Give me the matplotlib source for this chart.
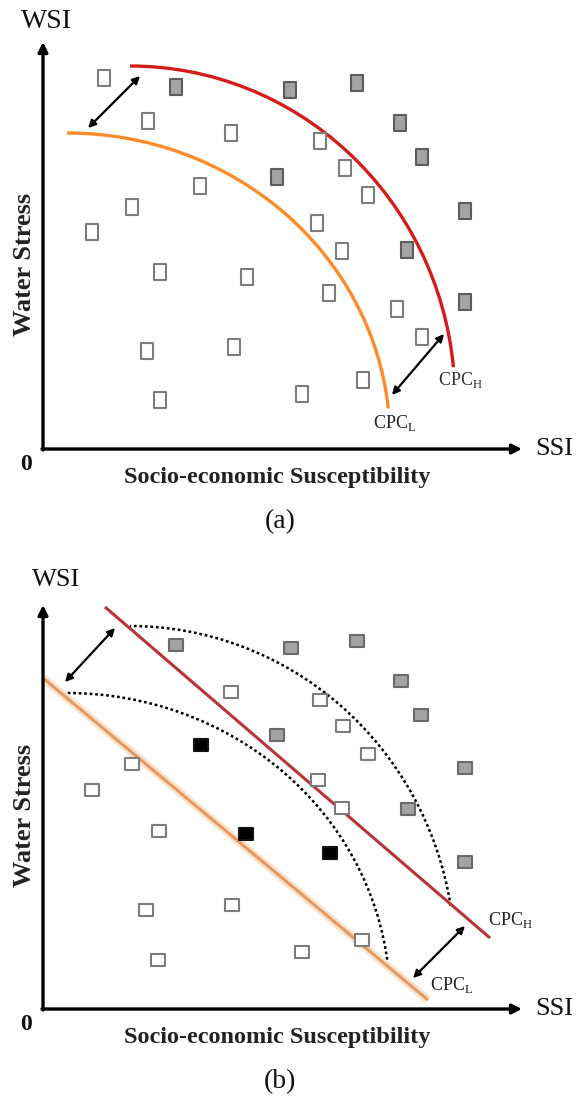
import matplotlib
matplotlib.use('Agg')
import matplotlib.pyplot as plt
from matplotlib.patches import Arc
from matplotlib.path import Path

plt.rcParams['font.family'] = ['Liberation Serif', 'DejaVu Serif']
plt.rcParams['mathtext.fontset'] = 'custom'
plt.rcParams['mathtext.rm'] = 'Liberation Serif'

# ---------------- data (SSI, WSI) in diagram units ----------------
a_hollow_ssi = [61, 105, 188, 157, 89, 49, 117, 204, 277, 302, 325, 274, 299, 104, 191, 117, 259, 286, 354, 379, 320]
a_hollow_wsi = [371, 328, 316, 263, 242, 217, 177, 172, 308, 281, 254, 226, 198, 98, 102, 49, 55, 156, 140, 112, 69]
a_gray_ssi = [133, 247, 314, 234, 357, 379, 422, 364, 422]
a_gray_wsi = [362, 359, 366, 272, 326, 292, 238, 199, 147]

b_gray_ssi = [133, 248, 314, 358, 378, 422, 365, 422, 234]
b_gray_wsi = [364, 361, 368, 328, 294, 241, 200, 147, 274]
b_hollow_ssi = [188, 277, 300, 325, 275, 299, 89, 49, 116, 103, 189, 115, 259, 319]
b_hollow_wsi = [317, 309, 283, 255, 229, 201, 245, 219, 178, 99, 104, 49, 57, 69]
b_black_ssi = [158, 203, 287]
b_black_wsi = [264, 175, 156]

# frontier curves: (center_ssi, center_wsi, width, height, theta_start, theta_end)
cpc_h_curve = (87, 49, 650, 668, 5.8, 90)
cpc_l_curve = (24, 9, 646, 614, 5.6, 90)
b_upper_dotted = (87, 49, 650, 668, 9.6, 90)
b_lower_dotted = (24, 9, 646, 614, 6.2, 90)

# straight frontiers in panel (b)
b_cpc_h_ssi = [62, 447]
b_cpc_h_wsi = [402, 71]
b_cpc_l_ssi = [0, 385]
b_cpc_l_wsi = [331, 9]

# double arrows (start ssi, start wsi, end ssi, end wsi)
a_arrows = [(45, 321, 97, 373), (349, 54, 401, 115)]
b_arrows = [(22, 327, 72, 381), (370, 31, 422, 83)]

fig = plt.figure(figsize=(5.85, 11.01), dpi=100)
axa = fig.add_axes([0, 551 / 1101, 1, 550 / 1101])
axa.set_xlim(-43, 542)
axa.set_ylim(-101, 449)
axb = fig.add_axes([0, 0, 1, 551 / 1101])
axb.set_xlim(-43, 542)
axb.set_ylim(-92, 459)

rect_a = Path([(-0.42, -0.5), (0.42, -0.5), (0.42, 0.5), (-0.42, 0.5), (-0.42, -0.5)],
              [Path.MOVETO, Path.LINETO, Path.LINETO, Path.LINETO, Path.CLOSEPOLY])
rect_b = Path([(-0.5, -0.43), (0.5, -0.43), (0.5, 0.43), (-0.5, 0.43), (-0.5, -0.43)],
              [Path.MOVETO, Path.LINETO, Path.LINETO, Path.LINETO, Path.CLOSEPOLY])

txt_col = '#111111'


def axes_frame(ax, ytop, label_wsi_xy, panel_letter, wsi_fs, ws_y):
    ax.axis('off')
    ax.annotate('', xy=(0, ytop), xytext=(0, -1),
                arrowprops=dict(arrowstyle='-|>', lw=2.4, color='black',
                                mutation_scale=14, shrinkA=0, shrinkB=0))
    ax.annotate('', xy=(479, 0), xytext=(-1, 0),
                arrowprops=dict(arrowstyle='-|>', lw=2.4, color='black',
                                mutation_scale=14, shrinkA=0, shrinkB=0))
    ax.text(label_wsi_xy[0], label_wsi_xy[1], 'WSI', ha='center', va='center',
            fontsize=wsi_fs, color=txt_col)
    ax.text(511, 0, 'SSI', ha='center', va='center', fontsize=19, color=txt_col)
    ax.text(-17, -16, '0', ha='center', va='center', fontsize=17,
            fontweight='bold', color=txt_col)
    ax.text(234, -29, 'Socio-economic Susceptibility', ha='center', va='center',
            fontsize=17.5, fontweight='bold', color='#222222')
    ax.text(-18, ws_y, 'Water Stress', ha='center', va='center', rotation=90,
            fontsize=19, fontweight='bold', color='#222222')
    ax.text(237, -73, panel_letter, ha='center', va='center', fontsize=20,
            color=txt_col)


def double_arrows(ax, arrows):
    for x0, y0, x1, y1 in arrows:
        ax.annotate('', xy=(x1, y1), xytext=(x0, y0),
                    arrowprops=dict(arrowstyle='<|-|>', lw=1.6, color='black',
                                    mutation_scale=11, shrinkA=0, shrinkB=0))


def arc(ax, spec, **kw):
    cx, cy, w, h, t1, t2 = spec
    ax.add_patch(Arc((cx, cy), w, h, theta1=t1, theta2=t2, **kw))


# ---------------- panel (a) ----------------
axes_frame(axa, 407, (3, 428), '(a)', 20, 185)
arc(axa, cpc_l_curve, color='#ff8a2a', lw=2.4)
arc(axa, cpc_h_curve, color='#d41c1c', lw=2.4)
axa.plot(a_hollow_ssi, a_hollow_wsi, ls='none', marker=rect_a, ms=11,
         mfc='white', mec='#7d7d7d', mew=1.5)
axa.plot(a_gray_ssi, a_gray_wsi, ls='none', marker=rect_a, ms=11,
         mfc='#a3a3a3', mec='#5c5c5c', mew=1.5)
double_arrows(axa, a_arrows)
axa.text(417, 69, r'CPC$_\mathregular{H}$', ha='center', va='center',
         fontsize=13, color='#333333')
axa.text(352, 26, r'CPC$_\mathregular{L}$', ha='center', va='center',
         fontsize=13, color='#222222')

# ---------------- panel (b) ----------------
axes_frame(axb, 404, (13, 429), '(b)', 19, 194)
axb.plot(b_cpc_l_ssi, b_cpc_l_wsi, color='#fbe2cc', lw=6, solid_capstyle='butt')
axb.plot(b_cpc_l_ssi, b_cpc_l_wsi, color='#e49a60', lw=2.2, solid_capstyle='butt')
axb.plot(b_cpc_h_ssi, b_cpc_h_wsi, color='#b8343a', lw=2.2, solid_capstyle='butt')
arc(axb, b_upper_dotted, color='black', lw=1.8, ls=(0, (1.1, 1.1)))
arc(axb, b_lower_dotted, color='black', lw=1.8, ls=(0, (1.1, 1.1)))
axb.plot(b_hollow_ssi, b_hollow_wsi, ls='none', marker=rect_b, ms=10.5,
         mfc='white', mec='#7d7d7d', mew=1.5)
axb.plot(b_gray_ssi, b_gray_wsi, ls='none', marker=rect_b, ms=10.5,
         mfc='#a3a3a3', mec='#6a6a6a', mew=1.5)
axb.plot(b_black_ssi, b_black_wsi, ls='none', marker=rect_b, ms=10.5,
         mfc='black', mec='#111111', mew=1.5)
double_arrows(axb, b_arrows)
axb.text(467, 89, r'CPC$_\mathregular{H}$', ha='center', va='center',
         fontsize=13, color='#222222')
axb.text(409, 24, r'CPC$_\mathregular{L}$', ha='center', va='center',
         fontsize=13, color='#222222')

fig.savefig('out.png', dpi=100, facecolor='white')
